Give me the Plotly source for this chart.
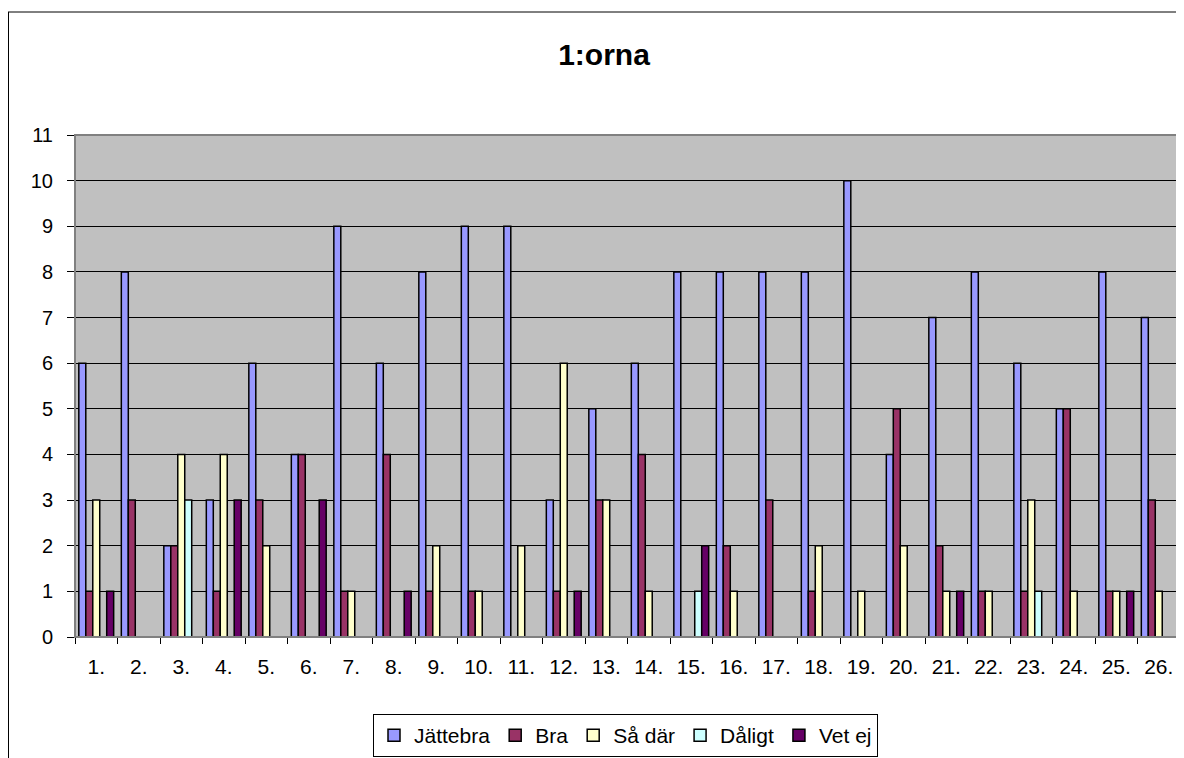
import plotly.graph_objects as go

categories = [f"{i}." for i in range(1, 27)]
jattebra = [6, 8, 2, 3, 6, 4, 9, 6, 8, 9, 9, 3, 5, 6, 8, 8, 8, 8, 10, 4, 7, 8, 6, 5, 8, 7]
bra      = [1, 3, 2, 1, 3, 4, 1, 4, 1, 1, 0, 1, 3, 4, 0, 2, 3, 1, 0, 5, 2, 1, 1, 5, 1, 3]
sa_dar   = [3, 0, 4, 4, 2, 0, 1, 0, 2, 1, 2, 6, 3, 1, 0, 1, 0, 2, 1, 2, 1, 1, 3, 1, 1, 1]
daligt   = [0, 0, 3, 0, 0, 0, 0, 0, 0, 0, 0, 0, 0, 0, 1, 0, 0, 0, 0, 0, 0, 0, 1, 0, 0, 0]
vet_ej   = [1, 0, 0, 3, 0, 3, 0, 1, 0, 0, 0, 1, 0, 0, 2, 0, 0, 0, 0, 0, 1, 0, 0, 0, 1, 0]

series = [
    ("Jättebra", jattebra, "#9999FF"),
    ("Bra", bra, "#993366"),
    ("Så där", sa_dar, "#FFFFCC"),
    ("Dåligt", daligt, "#CCFFFF"),
    ("Vet ej", vet_ej, "#660066"),
]

fig = go.Figure()
for name, vals, col in series:
    fig.add_trace(go.Bar(
        x=categories, y=vals, name=name,
        marker=dict(color=col, line=dict(color="black", width=1.5)),
    ))

# page body has an 8px margin: figure coordinates = screen - 8
W, H = 1176, 750
L, R, T, B = 67, 1172, 127, 629
pw, ph = R - L, B - T

def px2x(px):
    return (px - L) / pw

def py2y(py):
    return (B - py) / ph

fig.update_layout(
    width=W, height=H,
    margin=dict(l=L, r=W - R, t=T, b=H - B, autoexpand=False),
    paper_bgcolor="white",
    plot_bgcolor="#C0C0C0",
    barmode="group",
    bargap=0.18,
    bargroupgap=0,
    font=dict(family="Liberation Sans, Arial, sans-serif", size=21, color="black"),
    title=dict(text="<b>1:orna</b>", x=596 / W, xref="container", xanchor="center",
               y=1 - 46 / H, yref="container", yanchor="middle", font=dict(size=30)),
    showlegend=True,
    legend=dict(orientation="h", x=px2x(617.5), xanchor="center", xref="paper",
                y=py2y(706), yanchor="top", yref="paper",
                bordercolor="black", borderwidth=1, bgcolor="white",
                font=dict(size=21), itemwidth=30, traceorder="normal",
                tracegroupgap=0),
    xaxis=dict(type="category", showline=True, linecolor="black", linewidth=1,
               ticks="outside", tickson="boundaries", ticklen=6, tickcolor="black",
               showgrid=False, ticklabelstandoff=11, tickfont=dict(size=21)),
    yaxis=dict(range=[0, 11], dtick=1, showline=True, linecolor="black", linewidth=1,
               ticks="outside", ticklen=7, tickcolor="black",
               showgrid=True, gridcolor="black", gridwidth=1, zeroline=False,
               tickfont=dict(size=20), ticklabelstandoff=10),
    shapes=[
        dict(type="rect", xref="paper", yref="paper", x0=0, x1=1, y0=0, y1=1,
             line=dict(color="#808080", width=2), layer="above"),
        dict(type="line", xref="paper", yref="paper", x0=px2x(0.5), x1=px2x(0.5),
             y0=py2y(4), y1=py2y(H + 10), line=dict(color="black", width=1)),
        dict(type="line", xref="paper", yref="paper", x0=px2x(0), x1=px2x(W + 10),
             y0=py2y(4), y1=py2y(4), line=dict(color="black", width=1)),
    ],
)

fig.write_html("out.html")
